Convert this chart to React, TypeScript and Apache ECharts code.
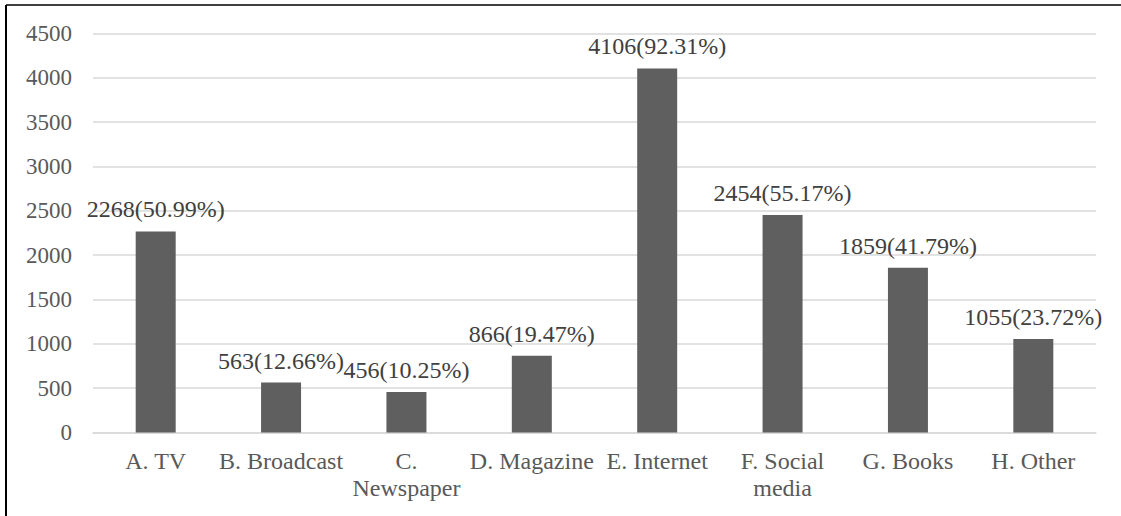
import React, { useEffect, useRef } from "react";
import * as echarts from "echarts";

const categories = [
  "A. TV",
  "B. Broadcast",
  "C.\nNewspaper",
  "D. Magazine",
  "E. Internet",
  "F. Social\nmedia",
  "G. Books",
  "H. Other",
];
const counts = [2268, 563, 456, 866, 4106, 2454, 1859, 1055];
const shares = ["50.99", "12.66", "10.25", "19.47", "92.31", "55.17", "41.79", "23.72"];
const yTicks = [0, 500, 1000, 1500, 2000, 2500, 3000, 3500, 4000, 4500];

const FONT = "Liberation Serif";

export default function App() {
  const ref = useRef<HTMLDivElement>(null);

  useEffect(() => {
    if (!ref.current) return;
    const chart = echarts.init(ref.current, undefined, { renderer: "svg" });
    chart.setOption({
      animation: false,
      backgroundColor: "#ffffff",
      textStyle: { fontFamily: FONT },
      grid: { left: 93, right: 25, top: 33.5, bottom: 83.5, containLabel: false },
      xAxis: {
        type: "category",
        data: categories,
        axisTick: { show: false },
        axisLine: { lineStyle: { color: "#d9d9d9", width: 1.5 } },
        axisLabel: {
          interval: 0,
          margin: 15,
          color: "#595959",
          fontFamily: FONT,
          fontSize: 24,
          lineHeight: 27,
          align: "center",
        },
      },
      yAxis: {
        type: "value",
        min: yTicks[0],
        max: yTicks[yTicks.length - 1],
        interval: 500,
        axisLine: { show: false },
        axisTick: { show: false },
        splitLine: { lineStyle: { color: "#d9d9d9", width: 1.5 } },
        axisLabel: {
          margin: 21,
          color: "#595959",
          fontFamily: FONT,
          fontSize: 23,
          formatter: (v: number) => String(v),
        },
      },
      series: [
        {
          type: "bar",
          data: counts,
          barWidth: 40,
          itemStyle: { color: "#5f5f5f" },
          label: {
            show: true,
            position: "top",
            distance: 10,
            color: "#404040",
            fontFamily: FONT,
            fontSize: 24,
            formatter: (p: any) => `${counts[p.dataIndex]}(${shares[p.dataIndex]}%)`,
          },
        },
      ],
      graphic: [
        {
          type: "line",
          shape: { x1: 6, y1: 5, x2: 1121, y2: 5 },
          style: { stroke: "#000000", lineWidth: 1.5 },
        },
        {
          type: "line",
          shape: { x1: 6, y1: 5, x2: 6, y2: 516 },
          style: { stroke: "#000000", lineWidth: 2 },
        },
      ],
    });
    return () => chart.dispose();
  }, []);

  return (
    <div
      ref={ref}
      style={{ position: "fixed", left: 0, top: 0, width: 1121, height: 516 }}
    />
  );
}
